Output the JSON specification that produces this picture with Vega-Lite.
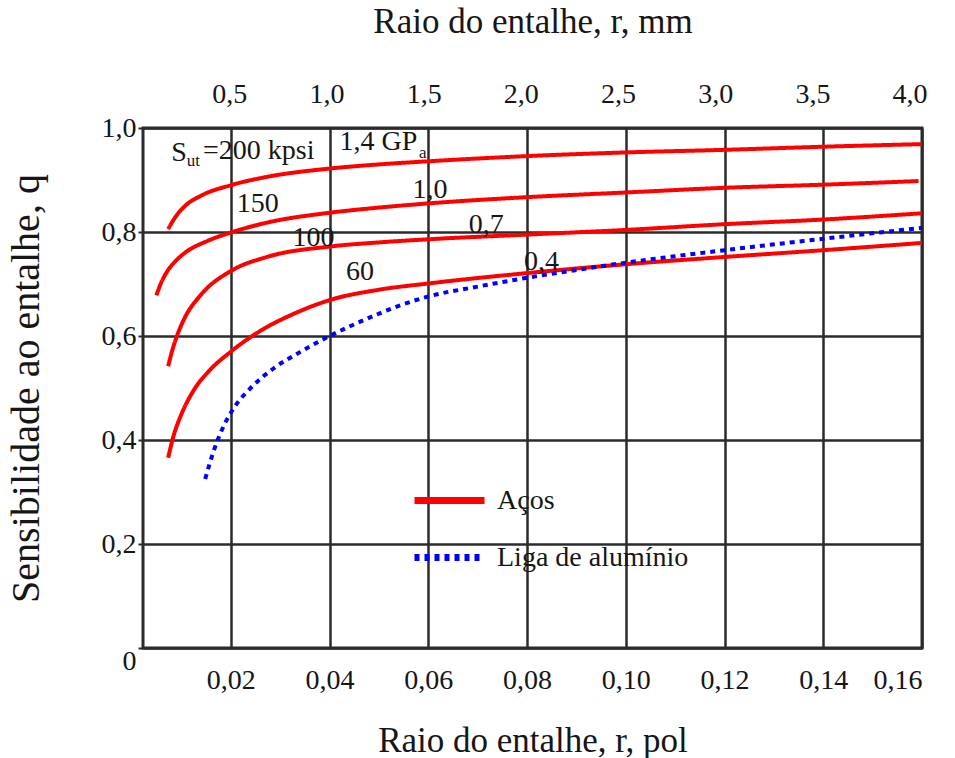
{
  "$schema": "https://vega.github.io/schema/vega-lite/v6.json",
  "width": 779,
  "height": 520,
  "autosize": {"type": "none"},
  "padding": {"left": 143, "top": 128, "right": 33, "bottom": 110},
  "background": "white",
  "config": {
    "font": "Liberation Serif, DejaVu Serif, serif",
    "view": {"stroke": "#2b2b2b", "strokeWidth": 3},
    "axis": {
      "labelFont": "Liberation Serif, DejaVu Serif, serif",
      "titleFont": "Liberation Serif, DejaVu Serif, serif",
      "labelColor": "#161616",
      "titleColor": "#161616",
      "titleFontWeight": "normal",
      "domain": false,
      "ticks": false
    },
    "legend": {"labelFont": "Liberation Serif, DejaVu Serif, serif", "labelColor": "#161616"},
    "text": {"font": "Liberation Serif, DejaVu Serif, serif"}
  },
  "datasets": {
    "acos": [
      {"r": 0.0073, "q": 0.806, "serie": "200 kpsi", "material": "Aços"},
      {"r": 0.009, "q": 0.832, "serie": "200 kpsi", "material": "Aços"},
      {"r": 0.0107, "q": 0.85, "serie": "200 kpsi", "material": "Aços"},
      {"r": 0.014, "q": 0.87, "serie": "200 kpsi", "material": "Aços"},
      {"r": 0.02, "q": 0.89, "serie": "200 kpsi", "material": "Aços"},
      {"r": 0.0273, "q": 0.906, "serie": "200 kpsi", "material": "Aços"},
      {"r": 0.04, "q": 0.922, "serie": "200 kpsi", "material": "Aços"},
      {"r": 0.05, "q": 0.93, "serie": "200 kpsi", "material": "Aços"},
      {"r": 0.06, "q": 0.936, "serie": "200 kpsi", "material": "Aços"},
      {"r": 0.08, "q": 0.946, "serie": "200 kpsi", "material": "Aços"},
      {"r": 0.1, "q": 0.953, "serie": "200 kpsi", "material": "Aços"},
      {"r": 0.12, "q": 0.958, "serie": "200 kpsi", "material": "Aços"},
      {"r": 0.14, "q": 0.964, "serie": "200 kpsi", "material": "Aços"},
      {"r": 0.16, "q": 0.969, "serie": "200 kpsi", "material": "Aços"},

      {"r": 0.0049, "q": 0.678, "serie": "150 kpsi", "material": "Aços"},
      {"r": 0.006, "q": 0.705, "serie": "150 kpsi", "material": "Aços"},
      {"r": 0.0073, "q": 0.727, "serie": "150 kpsi", "material": "Aços"},
      {"r": 0.009, "q": 0.746, "serie": "150 kpsi", "material": "Aços"},
      {"r": 0.0107, "q": 0.76, "serie": "150 kpsi", "material": "Aços"},
      {"r": 0.0153, "q": 0.783, "serie": "150 kpsi", "material": "Aços"},
      {"r": 0.02, "q": 0.799, "serie": "150 kpsi", "material": "Aços"},
      {"r": 0.0273, "q": 0.818, "serie": "150 kpsi", "material": "Aços"},
      {"r": 0.04, "q": 0.837, "serie": "150 kpsi", "material": "Aços"},
      {"r": 0.05, "q": 0.847, "serie": "150 kpsi", "material": "Aços"},
      {"r": 0.06, "q": 0.855, "serie": "150 kpsi", "material": "Aços"},
      {"r": 0.08, "q": 0.867, "serie": "150 kpsi", "material": "Aços"},
      {"r": 0.1, "q": 0.876, "serie": "150 kpsi", "material": "Aços"},
      {"r": 0.12, "q": 0.885, "serie": "150 kpsi", "material": "Aços"},
      {"r": 0.14, "q": 0.891, "serie": "150 kpsi", "material": "Aços"},
      {"r": 0.1593, "q": 0.898, "serie": "150 kpsi", "material": "Aços"},

      {"r": 0.0073, "q": 0.542, "serie": "100 kpsi", "material": "Aços"},
      {"r": 0.008, "q": 0.568, "serie": "100 kpsi", "material": "Aços"},
      {"r": 0.009, "q": 0.598, "serie": "100 kpsi", "material": "Aços"},
      {"r": 0.0105, "q": 0.632, "serie": "100 kpsi", "material": "Aços"},
      {"r": 0.014, "q": 0.68, "serie": "100 kpsi", "material": "Aços"},
      {"r": 0.02, "q": 0.725, "serie": "100 kpsi", "material": "Aços"},
      {"r": 0.0273, "q": 0.752, "serie": "100 kpsi", "material": "Aços"},
      {"r": 0.04, "q": 0.772, "serie": "100 kpsi", "material": "Aços"},
      {"r": 0.05, "q": 0.78, "serie": "100 kpsi", "material": "Aços"},
      {"r": 0.06, "q": 0.786, "serie": "100 kpsi", "material": "Aços"},
      {"r": 0.08, "q": 0.795, "serie": "100 kpsi", "material": "Aços"},
      {"r": 0.1, "q": 0.804, "serie": "100 kpsi", "material": "Aços"},
      {"r": 0.12, "q": 0.815, "serie": "100 kpsi", "material": "Aços"},
      {"r": 0.14, "q": 0.824, "serie": "100 kpsi", "material": "Aços"},
      {"r": 0.16, "q": 0.836, "serie": "100 kpsi", "material": "Aços"},

      {"r": 0.0073, "q": 0.366, "serie": "60 kpsi", "material": "Aços"},
      {"r": 0.0083, "q": 0.405, "serie": "60 kpsi", "material": "Aços"},
      {"r": 0.01, "q": 0.45, "serie": "60 kpsi", "material": "Aços"},
      {"r": 0.0125, "q": 0.496, "serie": "60 kpsi", "material": "Aços"},
      {"r": 0.0155, "q": 0.532, "serie": "60 kpsi", "material": "Aços"},
      {"r": 0.02, "q": 0.57, "serie": "60 kpsi", "material": "Aços"},
      {"r": 0.026, "q": 0.61, "serie": "60 kpsi", "material": "Aços"},
      {"r": 0.0333, "q": 0.645, "serie": "60 kpsi", "material": "Aços"},
      {"r": 0.04, "q": 0.669, "serie": "60 kpsi", "material": "Aços"},
      {"r": 0.05, "q": 0.689, "serie": "60 kpsi", "material": "Aços"},
      {"r": 0.06, "q": 0.701, "serie": "60 kpsi", "material": "Aços"},
      {"r": 0.08, "q": 0.721, "serie": "60 kpsi", "material": "Aços"},
      {"r": 0.1, "q": 0.738, "serie": "60 kpsi", "material": "Aços"},
      {"r": 0.12, "q": 0.752, "serie": "60 kpsi", "material": "Aços"},
      {"r": 0.14, "q": 0.765, "serie": "60 kpsi", "material": "Aços"},
      {"r": 0.16, "q": 0.779, "serie": "60 kpsi", "material": "Aços"}
    ],
    "aluminio": [
      {"r": 0.0148, "q": 0.325, "material": "Liga de alumínio"},
      {"r": 0.0167, "q": 0.384, "material": "Liga de alumínio"},
      {"r": 0.0187, "q": 0.43, "material": "Liga de alumínio"},
      {"r": 0.0207, "q": 0.463, "material": "Liga de alumínio"},
      {"r": 0.024, "q": 0.5, "material": "Liga de alumínio"},
      {"r": 0.0287, "q": 0.538, "material": "Liga de alumínio"},
      {"r": 0.034, "q": 0.569, "material": "Liga de alumínio"},
      {"r": 0.04, "q": 0.6, "material": "Liga de alumínio"},
      {"r": 0.0473, "q": 0.632, "material": "Liga de alumínio"},
      {"r": 0.054, "q": 0.658, "material": "Liga de alumínio"},
      {"r": 0.06, "q": 0.676, "material": "Liga de alumínio"},
      {"r": 0.07, "q": 0.695, "material": "Liga de alumínio"},
      {"r": 0.08, "q": 0.712, "material": "Liga de alumínio"},
      {"r": 0.09, "q": 0.727, "material": "Liga de alumínio"},
      {"r": 0.1, "q": 0.741, "material": "Liga de alumínio"},
      {"r": 0.12, "q": 0.765, "material": "Liga de alumínio"},
      {"r": 0.14, "q": 0.787, "material": "Liga de alumínio"},
      {"r": 0.16, "q": 0.808, "material": "Liga de alumínio"}
    ],
    "rotulos": [
      {"r": 0.00794, "q": 0.951, "texto": "S"},
      {"r": 0.01435, "q": 0.955, "texto": "=200 kpsi"},
      {"r": 0.042, "q": 0.973, "texto": "1,4 GP"},
      {"r": 0.0212, "q": 0.853, "texto": "150"},
      {"r": 0.03246, "q": 0.789, "texto": "100"},
      {"r": 0.0433, "q": 0.724, "texto": "60"},
      {"r": 0.0568, "q": 0.88, "texto": "1,0"},
      {"r": 0.0682, "q": 0.814, "texto": "0,7"},
      {"r": 0.0794, "q": 0.743, "texto": "0,4"}
    ],
    "indices": [
      {"r": 0.01105, "q": 0.936, "texto": "ut"},
      {"r": 0.0581, "q": 0.951, "texto": "a"}
    ]
  },
  "resolve": {"axis": {"x": "independent"}},
  "layer": [
    {
      "data": {"name": "acos"},
      "mark": {"type": "line", "strokeWidth": 4, "interpolate": "monotone", "clip": false},
      "encoding": {
        "x": {
          "field": "r",
          "type": "quantitative",
          "scale": {"domain": [0.0022, 0.16], "nice": false, "zero": false},
          "axis": {
            "orient": "bottom",
            "values": [0.02, 0.04, 0.06, 0.08, 0.1, 0.12, 0.14, 0.16],
            "labelExpr": "replace(format(datum.value, '.2f'), '.', ',')",
            "labelAlign": {"condition": {"test": "datum.value > 0.159", "value": "right"}, "value": "center"},
            "labelFontSize": 28,
            "labelPadding": 18,
            "title": "Raio do entalhe, r, pol",
            "titleFontSize": 35,
            "titlePadding": 29,
            "grid": true,
            "gridColor": "#2b2b2b",
            "gridWidth": 2.5,
            "gridOpacity": 1
          }
        },
        "y": {
          "field": "q",
          "type": "quantitative",
          "scale": {"domain": [0, 1], "nice": false},
          "axis": {
            "values": [0, 0.2, 0.4, 0.6, 0.8, 1],
            "labelExpr": "datum.value == 0 ? '0' : replace(format(datum.value, '.1f'), '.', ',')",
            "labelFontSize": 28,
            "labelPadding": 2,
            "labelOffset": {"condition": {"test": "datum.value == 0", "value": 13}, "value": 0},
            "ticks": true,
            "tickSize": 5,
            "tickWidth": 2,
            "tickColor": "#2b2b2b",
            "title": "Sensibilidade ao entalhe, q",
            "titleFontSize": 40,
            "titlePadding": 55,
            "grid": true,
            "gridColor": "#2b2b2b",
            "gridWidth": 2.5,
            "gridOpacity": 1
          }
        },
        "detail": {"field": "serie"},
        "color": {
          "field": "material",
          "type": "nominal",
          "scale": {"domain": ["Aços", "Liga de alumínio"], "range": ["#ff0000", "#0000ff"]},
          "legend": {
            "title": null,
            "orient": "none",
            "legendX": 268,
            "legendY": 334,
            "symbolType": "stroke",
            "symbolSize": 4900,
            "symbolStrokeWidth": 7,
            "labelFontSize": 28,
            "labelLimit": 400,
            "labelOffset": 9,
            "rowPadding": 4,
            "padding": 0
          }
        },
        "strokeDash": {
          "field": "material",
          "type": "nominal",
          "scale": {"domain": ["Aços", "Liga de alumínio"], "range": [[1, 0], [5, 5]]}
        }
      }
    },
    {
      "data": {"name": "aluminio"},
      "mark": {"type": "line", "strokeWidth": 4, "interpolate": "monotone", "clip": false},
      "encoding": {
        "x": {
          "field": "r",
          "type": "quantitative",
          "axis": {
            "orient": "top",
            "values": [0.019685, 0.03937, 0.059055, 0.07874, 0.098425, 0.11811, 0.137795, 0.15748],
            "labelExpr": "replace(format(datum.value * 25.4, '.1f'), '.', ',')",
            "labelFontSize": 28,
            "labelPadding": 20,
            "title": "Raio do entalhe, r, mm",
            "titleFontSize": 35,
            "titlePadding": 41,
            "grid": false
          }
        },
        "y": {"field": "q", "type": "quantitative"},
        "color": {"field": "material", "type": "nominal"},
        "strokeDash": {"field": "material", "type": "nominal"}
      }
    },
    {
      "data": {"name": "rotulos"},
      "mark": {"type": "text", "align": "left", "baseline": "middle", "fontSize": 28, "color": "#161616"},
      "encoding": {
        "x": {"field": "r", "type": "quantitative", "axis": null},
        "y": {"field": "q", "type": "quantitative"},
        "text": {"field": "texto"}
      }
    },
    {
      "data": {"name": "indices"},
      "mark": {"type": "text", "align": "left", "baseline": "middle", "fontSize": 17, "color": "#161616"},
      "encoding": {
        "x": {"field": "r", "type": "quantitative", "axis": null},
        "y": {"field": "q", "type": "quantitative"},
        "text": {"field": "texto"}
      }
    }
  ]
}
